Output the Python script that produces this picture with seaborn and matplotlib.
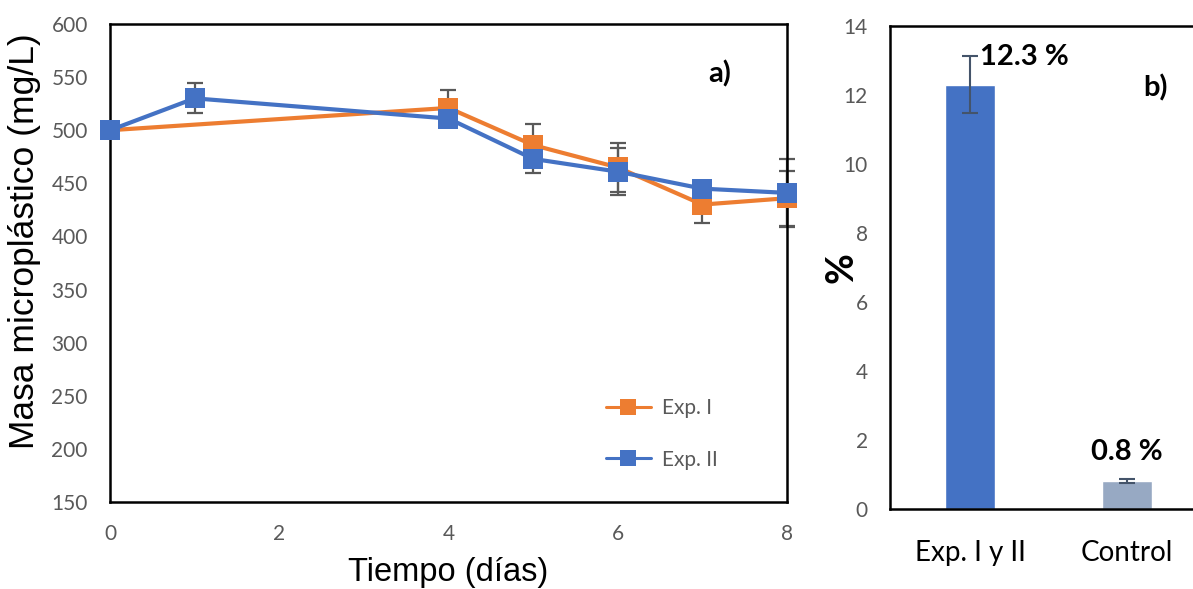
import numpy as np
import pandas as pd
import matplotlib
matplotlib.use("Agg")
import matplotlib.pyplot as plt
from matplotlib.lines import Line2D
import seaborn as sns

# --- data -------------------------------------------------------------
days_exp1 = [0, 4, 5, 6, 7, 8]
mass_exp1 = [500, 521, 486, 465, 430, 436]
err_exp1 = [0, 17, 20, 23, 17, 26]

days_exp2 = [0, 1, 4, 5, 6, 7, 8]
mass_exp2 = [500, 530, 511, 473, 461, 445, 441]
err_exp2 = [0, 14, 5, 13, 22, 5, 32]

series_names = ["Exp. I", "Exp. II"]

bar_categories = ["Exp. I y II", "Control"]
bar_values = [12.3, 0.8]
bar_errors = [0.83, 0.06]
bar_labels = ["12.3 %", "0.8 %"]

# --- style ------------------------------------------------------------
sns.set_theme(style="white")
plt.rcParams["font.family"] = ["Lato", "DejaVu Sans"]

ORANGE = "#ED7D31"
BLUE = "#4472C4"
GREY_BAR = "#97A9C3"
TICK_GREY = "#595959"
ERR_GREY = "#595959"
ARIAL = ["Liberation Sans", "DejaVu Sans"]

fig = plt.figure(figsize=(11.93, 5.89), dpi=100)
W, H = 1193, 589

def axes_px(x0, y0, x1, y1):
    return fig.add_axes([x0 / W, 1 - y1 / H, (x1 - x0) / W, (y1 - y0) / H])

# --- panel a: mass over time -----------------------------------------
ax1 = axes_px(110, 24, 787, 502)

df = pd.concat([
    pd.DataFrame({"dia": days_exp1, "masa": mass_exp1, "serie": series_names[0]}),
    pd.DataFrame({"dia": days_exp2, "masa": mass_exp2, "serie": series_names[1]}),
], ignore_index=True)

for d, m, e in [(days_exp1, mass_exp1, err_exp1), (days_exp2, mass_exp2, err_exp2)]:
    ebar = ax1.errorbar(d, m, yerr=e, fmt="none", ecolor=ERR_GREY, elinewidth=1.6,
                        capsize=6, capthick=1.6, zorder=1)
    for art in ebar.lines[1] + ebar.lines[2]:
        art.set_clip_on(False)

sns.lineplot(data=df, x="dia", y="masa", hue="serie", hue_order=series_names,
             palette=[ORANGE, BLUE], marker="s", markersize=14, markeredgewidth=0,
             linewidth=3, ax=ax1, zorder=3, errorbar=None, sort=True, legend=False)
for ln in ax1.lines:
    ln.set_clip_on(False)

ax1.set_xlim(0, 8)
ax1.set_ylim(150, 600)
ax1.set_xticks([0, 2, 4, 6, 8])
ax1.set_yticks(np.arange(150, 601, 50))
ax1.tick_params(axis="both", length=0, labelsize=15, labelcolor=TICK_GREY)
ax1.tick_params(axis="y", pad=16)
ax1.tick_params(axis="x", pad=16)
for s in ax1.spines.values():
    s.set_color("black")
    s.set_linewidth(1.8)
ax1.set_xlabel("Tiempo (días)", fontsize=23.5, family=ARIAL, color="black", labelpad=9)
ax1.set_ylabel("Masa microplástico (mg/L)", fontsize=25.5, family=ARIAL, color="black")
ax1.yaxis.set_label_coords(-0.1256, 0.546)
ax1.yaxis.label.set(va="center", ha="center")
ax1.text(0.9, 0.895, "a)", transform=ax1.transAxes, fontsize=21, fontweight="bold",
         ha="center", va="center", color="black")

# legend with smaller markers and thinner lines
handles = [Line2D([], [], color=c, marker="s", markersize=11, markeredgewidth=0,
                  linewidth=2.2) for c in (ORANGE, BLUE)]
ax1.legend(handles, series_names, loc="lower left", bbox_to_anchor=(0.717, 0.046),
           frameon=False, fontsize=15, labelspacing=1.5, handlelength=2.15,
           handletextpad=0.55, labelcolor=TICK_GREY, borderpad=0)

# --- panel b: percentage loss ----------------------------------------
ax2 = axes_px(890, 26, 1215, 509)
sns.barplot(x=bar_categories, y=bar_values, hue=bar_categories,
            palette=[BLUE, GREY_BAR], width=0.32, ax=ax2, legend=False,
            saturation=1, zorder=2)
ax2.errorbar(range(len(bar_values)), bar_values, yerr=bar_errors, fmt="none",
             ecolor="#44546A", elinewidth=1.5, capsize=6, capthick=1.5, zorder=3)

ax2.set_xlim(-0.51, 1 + (1215 - 1127) / 157)
ax2.set_ylim(0, 14)
ax2.set_yticks(np.arange(0, 15, 2))
ax2.tick_params(axis="y", length=0, labelsize=15, labelcolor=TICK_GREY, pad=16)
ax2.tick_params(axis="x", length=0, labelsize=20, labelcolor="black", pad=22)
for s in ax2.spines.values():
    s.set_color("black")
    s.set_linewidth(1.8)
ax2.spines["right"].set_visible(False)
ax2.set_ylabel("%", fontsize=27, fontweight="bold", color="black")
ax2.yaxis.set_label_coords(-0.148, 0.5)
ax2.yaxis.label.set(va="center", ha="center")

ax2.text(0.065, 13.1, bar_labels[0], fontsize=21, fontweight="bold",
         ha="left", va="center", color="black")
ax2.text(1, 1.65, bar_labels[1], fontsize=21, fontweight="bold",
         ha="center", va="center", color="black")
ax2.text(1.18, 12.2, "b)", fontsize=21, fontweight="bold",
         ha="center", va="center", color="black")

fig.savefig("out.png", dpi=100)
